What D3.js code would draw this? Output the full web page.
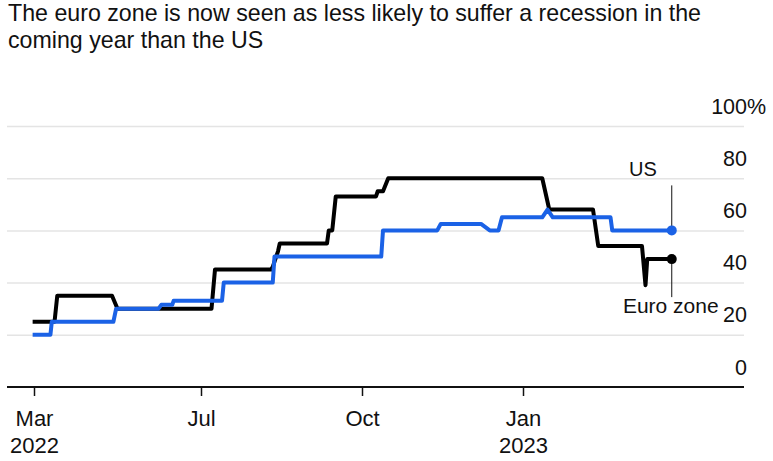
<!DOCTYPE html>
<html>
<head>
<meta charset="utf-8">
<script src="https://cdn.jsdelivr.net/npm/d3@7"></script>
<style>
  body { margin: 0; background: #fff; }
  text { font-family: 'Liberation Sans', Arial, Helvetica, sans-serif; fill: #111; }
</style>
</head>
<body>
<svg id="chart" width="773" height="461"></svg>
<script>
const titleLines = [
  'The euro zone is now seen as less likely to suffer a recession in the',
  'coming year than the US'
];

// US probability of recession (%)
const usDates = ['2022-02-28','2022-03-13','2022-03-14','2022-04-28','2022-04-30','2022-05-31',
  '2022-06-02','2022-06-10','2022-06-11','2022-07-13','2022-07-14','2022-08-11','2022-08-12',
  '2022-10-12','2022-10-13','2022-11-13','2022-11-15','2022-12-08','2022-12-13','2022-12-18',
  '2022-12-20','2023-01-12','2023-01-15','2023-01-18','2023-02-20','2023-02-21','2023-03-27'];
const usValues = [20,20,25,25,30,30,
  31.5,31.5,33,33,40,40,50,
  50,60,60,62.5,62.5,60,60,
  65,65,68,65,65,60,60];

// Euro zone probability of recession (%)
const euroDates = ['2022-02-28','2022-03-16','2022-03-18','2022-04-27','2022-05-01','2022-07-07',
  '2022-07-09','2022-08-10','2022-08-11','2022-08-14','2022-08-15','2022-09-11','2022-09-12',
  '2022-09-14','2022-09-16','2022-10-09','2022-10-10','2022-10-13','2022-10-16','2023-01-12',
  '2023-01-16','2023-02-10','2023-02-13','2023-03-10','2023-03-12','2023-03-13','2023-03-27'];
const euroValues = [25,25,35,35,30,30,
  45,45,46,52,55,55,60,
  60,73,73,75,75,80,80,
  68,68,54,54,39,49,49];

// Axis ticks
const xTickDates = ['2022-03-01','2022-07-01','2022-10-01','2023-01-01'];
const xTickMonths = ['Mar','Jul','Oct','Jan'];
const xTickYears = ['2022','','','2023'];
const yTicks = [0, 20, 40, 60, 80, 100];

const svg = d3.select('#chart');
const parse = d3.timeParse('%Y-%m-%d');

const usData = usDates.map((d, i) => ({ date: parse(d), value: usValues[i] }));
const euroData = euroDates.map((d, i) => ({ date: parse(d), value: euroValues[i] }));

// plot area edges
const plotLeft = 7, plotRight = 744, plotTop = 126, plotBottom = 387;

// the months are not evenly spaced in the original, so piecewise time scale
const xScale = d3.scaleTime()
  .domain([parse('2022-03-01'), parse('2022-07-01'), parse('2023-01-01')])
  .range([34, 201, 523]);

const yScale = d3.scaleLinear()
  .domain([0, 100])
  .range([plotBottom, plotTop]);

// Title
svg.append('text')
  .attr('x', 8)
  .attr('y', 21)
  .attr('font-size', 23.2)
  .selectAll('tspan').data(titleLines)
  .enter().append('tspan')
    .attr('x', 8)
    .attr('dy', (d, i) => i === 0 ? 0 : 27)
    .text(d => d);

// y axis: gridlines + labels sitting above the lines
const yAxisG = svg.append('g')
  .attr('transform', `translate(${plotRight},0)`)
  .call(d3.axisLeft(yScale).tickValues(yTicks).tickSize(plotRight - plotLeft).tickFormat(d3.format('d')));

yAxisG.select('.domain').remove();
yAxisG.selectAll('.tick line')
  .attr('stroke', '#e4e4e4')
  .attr('stroke-width', 1.5)
  .filter(d => d === 0).remove();
yAxisG.selectAll('.tick text')
  .attr('x', 3)
  .attr('dy', -13)
  .attr('font-size', 21.5)
  .attr('fill', '#111')
  .style('text-anchor', 'end');
yAxisG.selectAll('.tick').filter(d => d === 100)
  .append('text')
    .attr('x', 3)
    .attr('dy', -13)
    .attr('font-size', 21.5)
    .attr('fill', '#111')
    .style('text-anchor', 'start')
    .text('%');

// x axis
const xAxisG = svg.append('g')
  .attr('transform', `translate(0,${plotBottom})`)
  .call(d3.axisBottom(xScale).tickValues(xTickDates.map(parse)).tickSize(9).tickFormat(''));

xAxisG.select('.domain').remove();
xAxisG.selectAll('.tick line').attr('stroke', '#111').attr('stroke-width', 1.5);

xAxisG.append('line')
  .attr('x1', plotLeft).attr('x2', plotRight)
  .attr('y1', 0).attr('y2', 0)
  .attr('stroke', '#111')
  .attr('stroke-width', 2);

const tickText = xAxisG.selectAll('.tick text')
  .attr('font-size', 22)
  .attr('fill', '#111')
  .attr('y', 39)
  .attr('dy', 0)
  .style('text-anchor', 'middle');
tickText.append('tspan').attr('x', 0).text((d, i) => xTickMonths[i]);
tickText.append('tspan').attr('x', 0).attr('dy', 27).text((d, i) => xTickYears[i]);

// lines
const line = d3.line()
  .x(d => xScale(d.date))
  .y(d => yScale(d.value));

svg.append('path').datum(euroData)
  .attr('fill', 'none')
  .attr('stroke', '#000')
  .attr('stroke-width', 4)
  .attr('stroke-linejoin', 'round')
  .attr('d', line);

svg.append('path').datum(usData)
  .attr('fill', 'none')
  .attr('stroke', '#1b62e6')
  .attr('stroke-width', 4)
  .attr('stroke-linejoin', 'round')
  .attr('d', line);

// end dots + labels
const usLast = usData[usData.length - 1];
const euroLast = euroData[euroData.length - 1];

svg.append('line')
  .attr('x1', xScale(usLast.date)).attr('x2', xScale(usLast.date))
  .attr('y1', yScale(usLast.value)).attr('y2', yScale(usLast.value) - 45)
  .attr('stroke', '#111').attr('stroke-width', 1);
svg.append('text')
  .attr('x', xScale(usLast.date) - 15)
  .attr('y', yScale(usLast.value) - 54)
  .attr('font-size', 20)
  .style('text-anchor', 'end')
  .text('US');

svg.append('line')
  .attr('x1', xScale(euroLast.date)).attr('x2', xScale(euroLast.date))
  .attr('y1', yScale(euroLast.value)).attr('y2', yScale(euroLast.value) + 38)
  .attr('stroke', '#111').attr('stroke-width', 1);
svg.append('text')
  .attr('x', xScale(euroLast.date) - 1)
  .attr('y', yScale(euroLast.value) + 54)
  .attr('font-size', 21)
  .style('text-anchor', 'middle')
  .text('Euro zone');

svg.append('circle')
  .attr('cx', xScale(usLast.date)).attr('cy', yScale(usLast.value))
  .attr('r', 5).attr('fill', '#1b62e6');
svg.append('circle')
  .attr('cx', xScale(euroLast.date)).attr('cy', yScale(euroLast.value))
  .attr('r', 5).attr('fill', '#000');
</script>
</body>
</html>
